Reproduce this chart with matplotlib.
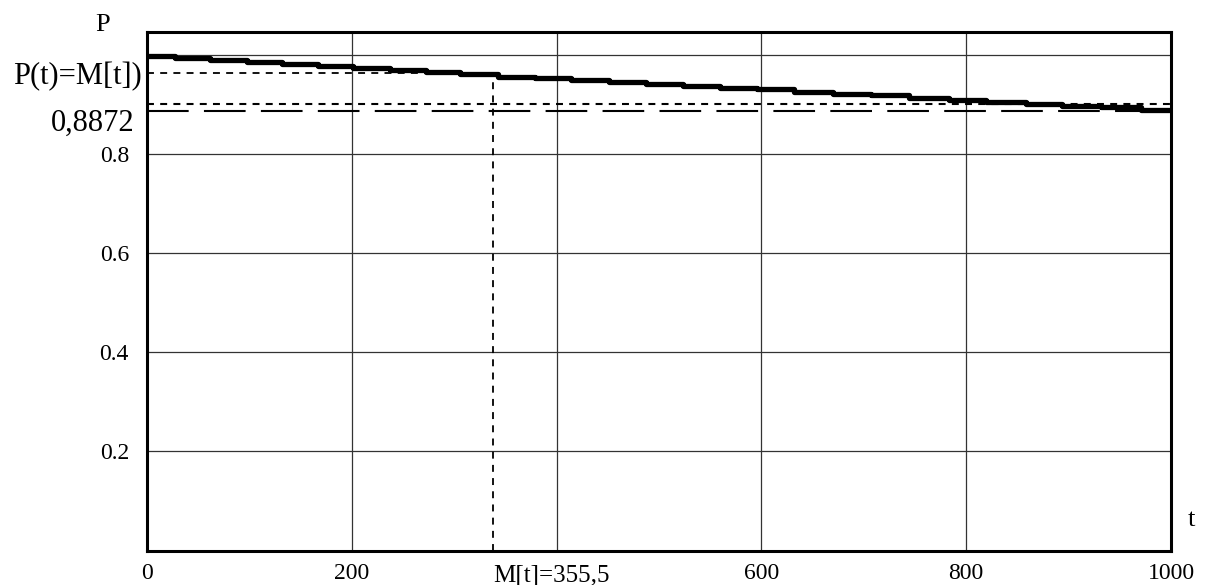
import numpy as np
import matplotlib.pyplot as plt
from matplotlib import transforms

plt.rcParams['font.family'] = ['Liberation Serif', 'DejaVu Serif']
plt.rcParams['lines.scale_dashes'] = False

# step curve P(t): start of each step and its value
t_steps = [0, 27, 62, 98, 132, 167, 201, 237, 272, 306, 343, 379, 414, 451,
           487, 523, 560, 596, 632, 670, 707, 744, 783, 819, 858, 894, 932, 971, 1000]
p_steps = [0.998, 0.9933, 0.9899, 0.9853, 0.9818, 0.9784, 0.9731, 0.9697, 0.9663,
           0.9616, 0.9562, 0.9530, 0.9496, 0.9455, 0.9415, 0.9368, 0.9328, 0.9304,
           0.9259, 0.9219, 0.9179, 0.9138, 0.9092, 0.9052, 0.9011, 0.8971, 0.8940, 0.8890]

p_limit = 0.8872      # long dashed level
p_mid = 0.9005        # short dashed level
t_mean = 338          # position of vertical dotted line
p_at_mean = 0.963     # horizontal dotted level
p_curve_at_mean = 0.957

x_ticks = [0, 200, 600, 800, 1000]
y_ticks = [0.2, 0.4, 0.6, 0.8]

fig = plt.figure(figsize=(12.06, 5.85), dpi=100)
ax = fig.add_axes([147 / 1206, 34.5 / 585, 1024 / 1206, 518.5 / 585])

# grid
for gx in [200, 400, 600, 800]:
    ax.axvline(gx, color='#333333', lw=0.9, zorder=1)
for gy in [0.2, 0.4, 0.6, 0.8, 1.0]:
    ax.axhline(gy, color='#333333', lw=0.9, zorder=1)

# step curve
ax.plot(t_steps, p_steps + [p_steps[-1]], drawstyle='steps-post',
        color='black', lw=3.8, zorder=4)

# reference lines
ax.axhline(p_limit, color='black', lw=1.5, dashes=(30, 11), zorder=3)
ax.axhline(p_mid, color='black', lw=1.5, dashes=(5, 4.5), zorder=3)
ax.plot([0, t_mean], [p_at_mean, p_at_mean], color='black', lw=1.3,
        dashes=(5, 4.5), zorder=3)
ax.plot([t_mean, t_mean], [0, p_curve_at_mean], color='black', lw=1.3,
        dashes=(5, 4.5), zorder=3)

ax.set_xlim(0, 1000)
ax.set_ylim(0, 1.046)

for s in ax.spines.values():
    s.set_linewidth(2.2)

ax.set_xticks(x_ticks)
ax.set_xticklabels([str(v) for v in x_ticks])
ax.set_yticks(y_ticks + [p_at_mean])
ax.set_yticklabels([str(v) for v in y_ticks] + ['P(t)=M[t])'])
ax.tick_params(axis='x', length=0, pad=9, labelsize=17)
ax.tick_params(axis='y', length=0, pad=13, labelsize=17)

# small tick at P(t) label
ytk = ax.yaxis.get_major_ticks()[-1]
ytk.tick1line.set_markersize(7)
ytk.tick1line.set_markeredgewidth(1.0)
ytk.set_pad(4)
ytk.label1.set_fontsize(22)

# extra labels
off = transforms.offset_copy(ax.get_yaxis_transform(), fig=fig, x=-9, y=-9, units='points')
ax.text(0, p_limit, '0,8872', transform=off, ha='right', va='center', fontsize=22)
ax.text(t_mean, -0.03, 'M[t]=355,5', transform=ax.transData, ha='left', va='top',
        fontsize=18, clip_on=False)
ax.text(-0.043, 1.013, 'P', transform=ax.transAxes, ha='center', va='center', fontsize=19)
ax.text(1.02, 0.059, 't', transform=ax.transAxes, ha='center', va='center', fontsize=19)

fig.savefig('out.png', dpi=100)
